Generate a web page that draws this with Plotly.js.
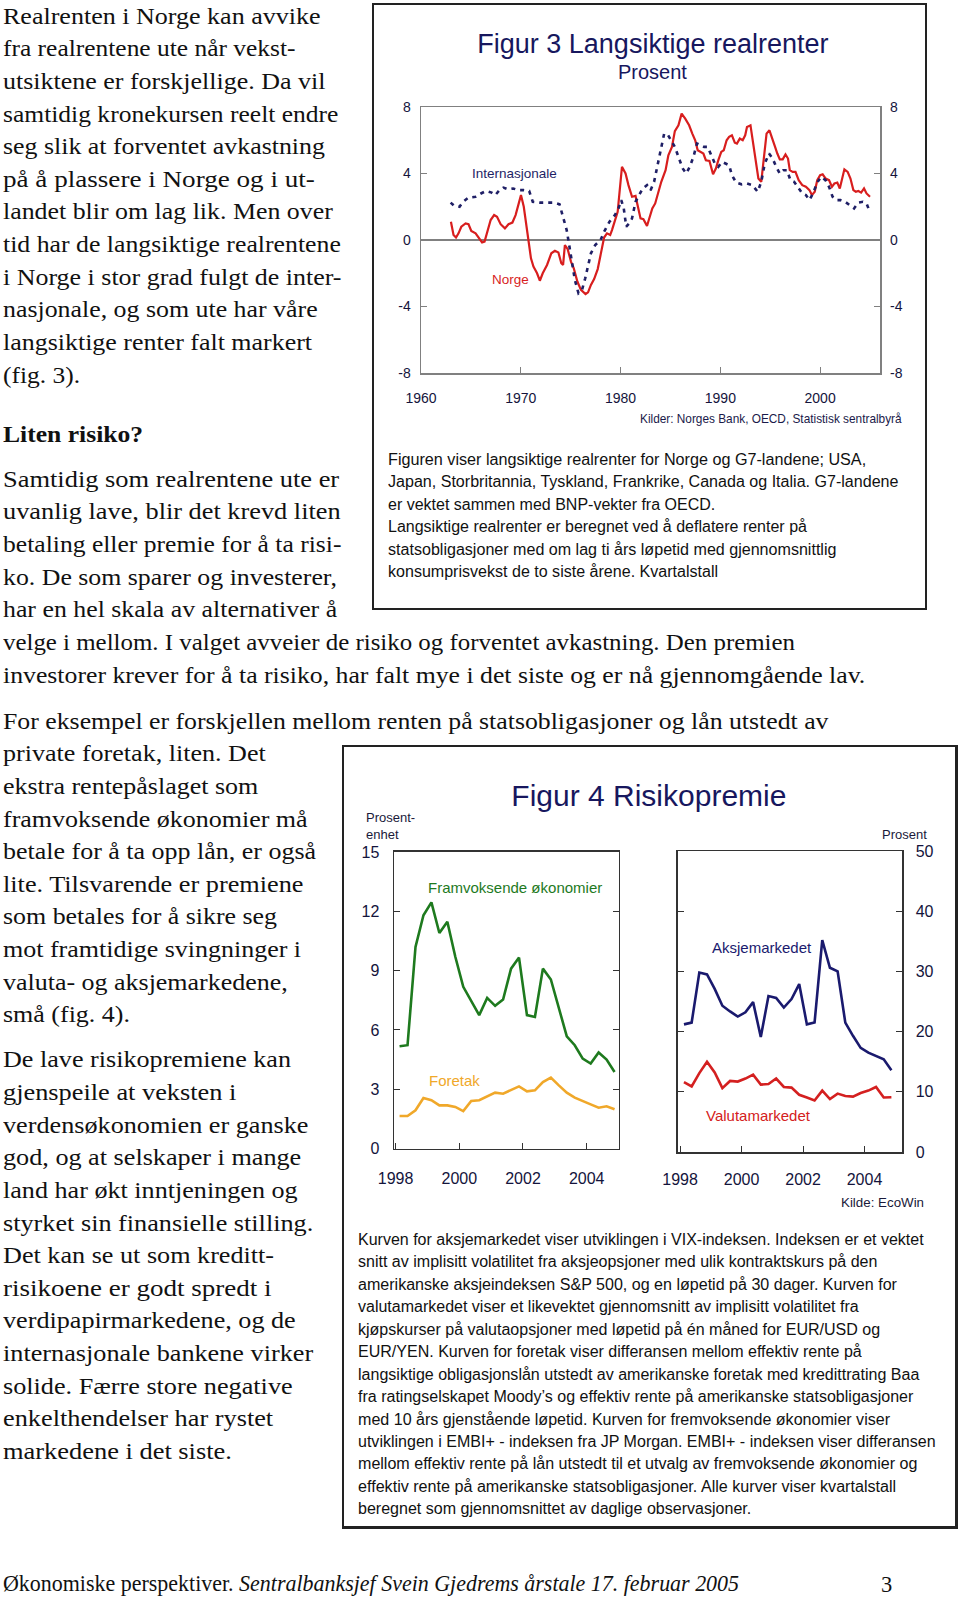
<!DOCTYPE html>
<html><head><meta charset="utf-8">
<script src="https://cdn.plot.ly/plotly-3.0.1.min.js"></script>
<style>
html,body{margin:0;padding:0;background:#fff;}
#page{position:relative;width:960px;height:1599px;overflow:hidden;background:#fff;}
.ln{position:absolute;white-space:nowrap;line-height:1;transform-origin:0 50%;}
.serif{font-family:'Liberation Serif','Times New Roman',Times,serif;color:#111;}
.sans{font-family:'Liberation Sans',Arial,sans-serif;color:#111;}
.box{position:absolute;border:2px solid #222;box-sizing:border-box;}
.chart{position:absolute;}
</style></head><body><div id="page">
<div class="box" style="left:372px;top:3px;width:555px;height:607px"></div>
<div class="box" style="left:342px;top:745px;width:616px;height:784px;border-right-width:3px;border-bottom-width:3px"></div>
<div id="fig3" class="chart" style="left:372px;top:3px;width:554px;height:606px"></div>
<div id="fig4" class="chart" style="left:342px;top:745px;width:615px;height:783px"></div>
</div>
<script>
// ---------- Figur 3 data ----------
var fig3Ticks = [1960, 1970, 1980, 1990, 2000];
var fig3YTicks = [-8, -4, 0, 4, 8];
var fig3YTickText = ['-8', '-4', '0', '4', '8'];
var norgeYears = [1963.0,1963.26,1963.51,1963.76,1964.04,1964.47,1964.76,1965.04,1965.47,1965.83,
1966.12,1966.37,1966.62,1966.98,1967.33,1967.62,1967.98,1968.41,1968.77,1969.16,
1969.48,1970.02,1970.3,1970.66,1971.02,1971.27,1971.63,1971.91,1972.2,1972.63,
1973.06,1973.42,1973.77,1974.06,1974.24,1974.42,1974.7,1975.03,1975.31,1975.67,
1976.03,1976.49,1976.74,1977.03,1977.35,1977.71,1978.1,1978.35,1978.64,1978.96,
1979.14,1979.43,1979.71,1980.14,1980.5,1980.79,1981.15,1981.5,1981.79,1982.0,
1982.29,1982.65,1982.83,1983.18,1983.47,1983.79,1984.08,1984.51,1984.79,1985.15,
1985.44,1985.8,1986.12,1986.48,1986.87,1987.19,1987.48,1987.73,1988.01,1988.3,
1988.55,1988.91,1989.27,1989.55,1989.8,1990.09,1990.34,1990.63,1990.88,1991.16,
1991.45,1991.66,1991.95,1992.24,1992.49,1992.67,1993.02,1993.31,1993.56,1993.81,
1994.1,1994.45,1994.63,1994.92,1995.17,1995.46,1995.71,1995.96,1996.25,1996.53,
1996.78,1996.96,1997.25,1997.53,1997.85,1998.21,1998.57,1998.93,1999.18,1999.46,
1999.71,2000.0,2000.25,2000.54,2000.89,2001.18,2001.43,2001.72,2001.97,2002.25,
2002.43,2002.76,2003.04,2003.33,2003.58,2003.83,2004.11,2004.4,2004.65,2005.0];
var norgeValues = [1.1,0.3,0.15,0.4,0.8,1.0,0.95,0.55,0.4,0.1,
-0.15,-0.1,0.4,1.2,1.5,1.4,0.95,0.7,0.95,1.05,
1.5,2.7,2.0,0.4,-1.1,-1.6,-2.0,-2.45,-2.0,-1.5,
-0.8,-0.65,-0.75,-1.4,-1.5,-0.3,-0.55,-1.3,-1.7,-2.5,
-3.0,-3.25,-3.15,-2.7,-2.35,-1.75,-0.5,0.15,0.4,0.3,
0.6,1.15,1.7,4.4,4.0,3.3,2.6,2.65,1.9,1.3,
1.25,0.85,1.2,1.9,2.2,2.9,3.5,4.2,5.1,5.6,
6.55,6.9,7.6,7.3,6.9,6.4,6.0,5.4,5.3,5.2,
4.8,4.75,3.95,4.3,4.8,5.3,5.4,6.0,6.2,6.3,
5.85,5.8,6.1,6.0,6.3,6.8,6.9,5.6,4.5,3.7,
3.5,5.2,6.4,6.6,6.2,5.65,5.2,4.85,4.85,5.15,
4.9,4.2,4.1,4.1,3.6,3.3,3.2,3.0,2.7,2.9,
3.6,3.9,3.95,3.7,3.6,3.2,3.4,3.45,3.1,3.7,
4.25,4.1,3.7,3.0,2.9,2.95,2.85,3.1,2.8,2.6];
var intYears = [1962.97,1963.33,1963.86,1964.22,1964.76,1965.47,1966.01,1966.55,1967.08,1967.44,
1967.8,1968.26,1968.69,1969.23,1969.77,1970.3,1970.84,1971.2,1971.91,1972.63,
1973.35,1973.88,1974.24,1974.6,1974.85,1975.13,1975.42,1975.78,1976.14,1976.46,
1976.74,1977.03,1977.46,1978.0,1978.35,1978.89,1979.43,1979.79,1980.07,1980.32,
1980.57,1980.86,1981.15,1981.5,1981.86,1982.22,1982.65,1983.01,1983.36,1983.65,
1984.01,1984.37,1984.72,1985.08,1985.44,1985.8,1986.23,1986.58,1986.94,1987.3,
1987.66,1988.01,1988.37,1988.73,1989.09,1989.45,1989.8,1990.16,1990.52,1990.88,
1991.16,1991.59,1992.13,1992.67,1993.2,1993.74,1994.1,1994.45,1994.88,1995.24,
1995.6,1995.96,1996.31,1996.67,1997.03,1997.39,1997.75,1998.21,1998.57,1998.93,
1999.28,1999.75,2000.11,2000.54,2000.89,2001.25,2001.61,2002.04,2002.5,2002.97,
2003.4,2003.83,2004.29,2004.65,2005.01];
var intValues = [2.25,2.05,2.0,2.3,2.55,2.6,2.8,2.95,2.85,2.7,
2.95,3.15,3.05,3.1,3.0,3.0,2.95,2.3,2.25,2.25,
2.25,2.15,1.4,0.6,-0.3,-1.4,-2.4,-3.2,-3.0,-2.3,
-1.6,-0.8,-0.3,0.0,0.5,1.1,1.5,1.9,2.4,1.9,
0.8,1.0,1.3,2.3,2.7,3.1,3.3,3.0,3.5,4.3,
5.2,6.4,6.35,6.0,5.6,5.0,4.3,4.0,4.4,5.0,
5.8,5.7,5.6,5.6,5.1,4.6,4.4,4.7,4.6,4.5,
3.9,3.45,3.35,3.4,3.3,2.9,3.5,4.6,5.2,4.9,
4.4,4.0,4.2,4.2,3.6,3.5,3.2,2.8,2.7,2.4,
2.8,3.5,3.8,3.6,3.2,2.6,2.4,2.4,2.3,2.1,
1.9,2.25,2.3,2.2,1.65];

// ---------- Figur 4 data ----------
var quarters = [1998.125,1998.375,1998.625,1998.875,1999.125,1999.375,1999.625,1999.875,
2000.125,2000.375,2000.625,2000.875,2001.125,2001.375,2001.625,2001.875,
2002.125,2002.375,2002.625,2002.875,2003.125,2003.375,2003.625,2003.875,
2004.125,2004.375,2004.625,2004.875];
var fig4XTicks = [1998, 2000, 2002, 2004];
var leftYTicks = [0, 3, 6, 9, 12, 15];
var rightYTicks = [0, 10, 20, 30, 40, 50];
var framvoksende = [5.18,5.23,10.2,11.8,12.45,10.9,11.47,9.7,8.18,7.5,6.75,7.62,7.22,7.54,9.1,9.66,6.75,6.66,9.1,8.55,7.08,5.68,5.23,4.55,4.3,4.86,4.5,3.88];
var foretak = [1.65,1.65,1.94,2.56,2.45,2.19,2.19,2.11,1.9,2.41,2.45,2.65,2.83,2.78,2.95,3.15,2.9,2.95,3.37,3.59,3.2,2.83,2.58,2.39,2.24,2.07,2.14,1.99];
var aksje = [21.2,21.5,29.8,29.5,27.1,24.3,23.35,22.5,23.2,24.9,19.1,25.9,25.6,24.0,25.4,27.9,21.2,21.5,35.2,30.6,30.0,21.5,19.3,17.3,16.5,16.0,15.4,13.6];
var valuta = [11.6,10.9,13.1,15.0,13.2,10.6,11.8,11.7,12.2,12.85,11.2,11.3,12.2,10.8,10.7,9.5,9.05,8.55,10.2,8.8,9.7,9.3,9.2,9.8,10.2,10.8,9.05,9.1];

// ---------- page text ----------
var blockA = ['Realrenten i Norge kan avvike','fra realrentene ute når vekst-','utsiktene er forskjellige. Da vil','samtidig kronekursen reelt endre','seg slik at forventet avkastning','på å plassere i Norge og i ut-','landet blir om lag lik. Men over','tid har de langsiktige realrentene','i Norge i stor grad fulgt de inter-','nasjonale, og som ute har våre','langsiktige renter falt markert','(fig. 3).'];
var blockAW = [317,293,322,336,322,312,330,338,338,315,309,77];
var blockC = ['Samtidig som realrentene ute er','uvanlig lave, blir det krevd liten','betaling eller premie for å ta risi-','ko. De som sparer og investerer,','har en hel skala av alternativer å','velge i mellom. I valget avveier de risiko og forventet avkastning. Den premien','investorer krever for å ta risiko, har falt mye i det siste og er nå gjennomgående lav.'];
var blockCW = [336,338,338,334,334,792,862];
var blockD = ['For eksempel er forskjellen mellom renten på statsobligasjoner og lån utstedt av','private foretak, liten. Det','ekstra rentepåslaget som','framvoksende økonomier må','betale for å ta opp lån, er også','lite. Tilsvarende er premiene','som betales for å sikre seg','mot framtidige svingninger i','valuta- og aksjemarkedene,','små (fig. 4).'];
var blockDW = [825,263,255,305,313,300,274,298,285,127];
var blockE = ['De lave risikopremiene kan','gjenspeile at veksten i','verdensøkonomien er ganske','god, og at selskaper i mange','land har økt inntjeningen og','styrket sin finansielle stilling.','Det kan se ut som kreditt-','risikoene er godt spredt i','verdipapirmarkedene, og de','internasjonale bankene virker','solide. Færre store negative','enkelthendelser har rystet','markedene i det siste.'];
var blockEW = [288,233,305,298,295,310,271,269,293,310,290,270,229];
var cap3 = ['Figuren viser langsiktige realrenter for Norge og G7-landene; USA,','Japan, Storbritannia, Tyskland, Frankrike, Canada og Italia. G7-landene','er vektet sammen med BNP-vekter fra OECD.','Langsiktige realrenter er beregnet ved å deflatere renter på','statsobligasjoner med om lag ti års løpetid med gjennomsnittlig','konsumprisvekst de to siste årene. Kvartalstall'];
var cap3W = [478,510,327,419,448,330];
var cap4 = ['Kurven for aksjemarkedet viser utviklingen i VIX-indeksen. Indeksen er et vektet','snitt av implisitt volatilitet fra aksjeopsjoner med ulik kontraktskurs på den','amerikanske aksjeindeksen S&amp;P 500, og en løpetid på 30 dager. Kurven for','valutamarkedet viser et likevektet gjennomsnitt av implisitt volatilitet fra','kjøpskurser på valutaopsjoner med løpetid på én måned for EUR/USD og','EUR/YEN. Kurven for foretak viser differansen mellom effektiv rente på','langsiktige obligasjonslån utstedt av amerikanske foretak med kredittrating Baa','fra ratingselskapet Moody’s og effektiv rente på amerikanske statsobligasjoner','med 10 års gjenstående løpetid. Kurven for fremvoksende økonomier viser','utviklingen i EMBI+ - indeksen fra JP Morgan. EMBI+ - indeksen viser differansen','mellom effektiv rente på lån utstedt til et utvalg av fremvoksende økonomier og','effektiv rente på amerikanske statsobligasjoner. Alle kurver viser kvartalstall','beregnet som gjennomsnittet av daglige observasjoner.'];
var cap4W = [566,519,539,501,522,504,561,555,532,578,559,538,393];

var page = document.getElementById('page');
function addLine(html, cls, fs, x, yc, w, k, extra){
  var d = document.createElement('div');
  d.className = 'ln ' + cls;
  d.innerHTML = html;
  d.style.fontSize = fs + 'px';
  d.style.left = x + 'px';
  d.style.top = (yc - k * fs) + 'px';
  d.dataset.w = w;
  if (extra) for (var p in extra) d.style[p] = extra[p];
  page.appendChild(d);
}
function addBlock(lines, widths, cls, fs, x, y0, dy, k, extra){
  lines.forEach(function(t, i){ addLine(t, cls, fs, x, y0 + i * dy, widths[i], k, extra); });
}
var SF = 22.5, LH = 32.64;
addBlock(blockA, blockAW, 'serif', SF, 3, 17.3, LH, 0.52);
addLine('Liten risiko?', 'serif', SF, 3, 435.6, 140, 0.52, {fontWeight:'bold'});
addBlock(blockC, blockCW, 'serif', SF, 3, 480.5, LH, 0.52);
addBlock(blockD, blockDW, 'serif', SF, 3, 722.3, LH, 0.52);
addBlock(blockE, blockEW, 'serif', SF, 3, 1061, LH, 0.52);
addLine('Økonomiske perspektiver. <i>Sentralbanksjef Svein Gjedrems årstale 17. februar 2005</i>', 'serif', SF, 3, 1586, 736, 0.52, {lineHeight:'0.9'});
addLine('3', 'serif', SF, 881, 1587, 0, 0.52, {lineHeight:'0.9'});
addBlock(cap3, cap3W, 'sans', 16, 388, 460, 22.4, 0.5);
addBlock(cap4, cap4W, 'sans', 16, 358, 1240, 22.44, 0.5);
addLine('Kilder: Norges Bank, OECD, Statistisk sentralbyrå', 'sans', 13, 640, 418, 262, 0.5, {color:'#1a1a4a'});
addLine('Kilde: EcoWin', 'sans', 13.5, 841, 1203, 83, 0.5, {color:'#1a1a3a'});

function fitAll(){
  document.querySelectorAll('.ln').forEach(function(d){
    d.style.transform = 'none';
    var nat = d.offsetWidth, w = +d.dataset.w;
    if (nat > 0 && w > 0) d.style.transform = 'scaleX(' + (w / nat) + ')';
  });
}
fitAll();
if (document.fonts && document.fonts.ready) document.fonts.ready.then(fitAll);

// ---------- Figur 3 chart ----------
var FONT = 'Liberation Sans, Arial, sans-serif';
var NAVY = '#17175e', TICKC = '#14143c', RED = '#d81e1e';
var fig3Traces = [
  {x: norgeYears, y: norgeValues, mode: 'lines', line: {color: RED, width: 2.2}, hoverinfo: 'skip'},
  {x: intYears, y: intValues, yaxis: 'y2', mode: 'lines', line: {color: '#1f1f66', width: 2.6, dash: '4px,5px'}, hoverinfo: 'skip'}
];
var fig3Layout = {
  width: 554, height: 606,
  margin: {l: 49, r: 46, t: 104, b: 236},
  paper_bgcolor: 'rgba(0,0,0,0)', plot_bgcolor: 'rgba(0,0,0,0)',
  showlegend: false,
  font: {family: FONT, color: TICKC, size: 14},
  title: {text: 'Figur 3 Langsiktige realrenter', font: {family: FONT, size: 27, color: NAVY},
          xref: 'container', x: 0.507, xanchor: 'center', yref: 'container', y: 0.933, yanchor: 'middle'},
  xaxis: {range: [1960, 2006], tickvals: fig3Ticks, ticks: 'inside', ticklen: 6, tickcolor: '#808080',
          showline: true, linecolor: '#808080', linewidth: 1.5, mirror: true, showgrid: false, zeroline: false,
          tickfont: {size: 14, color: TICKC}, ticklabelstandoff: 12},
  yaxis: {range: [-8, 8], tickvals: fig3YTicks, ticktext: fig3YTickText, ticks: 'inside', ticklen: 6, tickcolor: '#808080',
          showline: true, linecolor: '#808080', linewidth: 1.5, mirror: 'ticks', showgrid: false,
          zeroline: true, zerolinecolor: '#808080', zerolinewidth: 1.5,
          tickfont: {size: 14, color: TICKC}, ticklabelstandoff: 6},
  yaxis2: {range: [-8, 8], overlaying: 'y', side: 'right', tickvals: fig3YTicks, ticktext: fig3YTickText,
           ticks: '', showline: false, showgrid: false, zeroline: false,
           tickfont: {size: 14, color: TICKC}, ticklabelstandoff: 9},
  annotations: [
    {text: 'Prosent', xref: 'paper', yref: 'paper', x: 0.505, y: 1.13, showarrow: false, xanchor: 'center', yanchor: 'middle',
     font: {family: FONT, size: 20, color: NAVY}},
    {text: 'Internasjonale', xref: 'x', yref: 'y', x: 1969.34, y: 4.02, showarrow: false, xanchor: 'center', yanchor: 'middle',
     font: {family: FONT, size: 13.5, color: '#1f1f66'}},
    {text: 'Norge', xref: 'x', yref: 'y', x: 1969.0, y: -2.4, showarrow: false, xanchor: 'center', yanchor: 'middle',
     font: {family: FONT, size: 13.5, color: RED}}
  ]
};
Plotly.newPlot('fig3', fig3Traces, fig3Layout, {staticPlot: true, displayModeBar: false});

// ---------- Figur 4 chart ----------
var fig4Traces = [
  {x: quarters, y: framvoksende, mode: 'lines', line: {color: '#1e7a1e', width: 2.6}, hoverinfo: 'skip'},
  {x: quarters, y: foretak, mode: 'lines', line: {color: '#f0a82a', width: 2.6}, hoverinfo: 'skip'},
  {x: quarters, y: aksje, xaxis: 'x2', yaxis: 'y2', mode: 'lines', line: {color: '#1a1a6e', width: 2.6}, hoverinfo: 'skip'},
  {x: quarters, y: valuta, xaxis: 'x2', yaxis: 'y2', mode: 'lines', line: {color: '#d42020', width: 2.6}, hoverinfo: 'skip'}
];
var axBase = {ticks: 'inside', ticklen: 6, tickcolor: '#333', showline: true, linecolor: '#333', linewidth: 1.5,
              showgrid: false, zeroline: false, tickfont: {size: 16, color: TICKC}};
function ax(o){ var r = {}; for (var k in axBase) r[k] = axBase[k]; for (var k2 in o) r[k2] = o[k2]; return r; }
var fig4Layout = {
  width: 615, height: 783,
  margin: {l: 52, r: 55, t: 106, b: 376},
  paper_bgcolor: 'rgba(0,0,0,0)', plot_bgcolor: 'rgba(0,0,0,0)',
  showlegend: false,
  font: {family: FONT, color: TICKC, size: 16},
  title: {text: 'Figur 4 Risikopremie', font: {family: FONT, size: 30, color: NAVY},
          xref: 'container', x: 0.499, xanchor: 'center', yref: 'container', y: 0.936, yanchor: 'middle'},
  xaxis: ax({domain: [0, 0.442], range: [1997.95, 2005.0], tickvals: fig4XTicks, mirror: true, anchor: 'y', ticklabelstandoff: 15}),
  yaxis: ax({domain: [0.011, 0.997], range: [0, 15], tickvals: leftYTicks, mirror: 'ticks', anchor: 'x', ticklabelstandoff: 10}),
  xaxis2: ax({domain: [0.559, 1], range: [1997.93, 2005.22], tickvals: fig4XTicks, mirror: true, anchor: 'y2', ticklabelstandoff: 12}),
  yaxis2: ax({domain: [0, 1], range: [0, 50], tickvals: rightYTicks, mirror: 'ticks', anchor: 'x2', side: 'right', ticklabelstandoff: 9}),
  annotations: [
    {text: 'Prosent-', xref: 'paper', yref: 'paper', x: -0.059, y: 1.110, xanchor: 'left', yanchor: 'middle', showarrow: false,
     font: {family: FONT, size: 13, color: '#1a1a3a'}},
    {text: 'enhet', xref: 'paper', yref: 'paper', x: -0.059, y: 1.056, xanchor: 'left', yanchor: 'middle', showarrow: false,
     font: {family: FONT, size: 13, color: '#1a1a3a'}},
    {text: 'Prosent', xref: 'paper', yref: 'paper', x: 1.053, y: 1.056, xanchor: 'right', yanchor: 'middle', showarrow: false,
     font: {family: FONT, size: 13, color: '#1a1a3a'}},
    {text: 'Framvoksende økonomier', xref: 'x', yref: 'y', x: 2001.76, y: 13.2, xanchor: 'center', yanchor: 'middle', showarrow: false,
     font: {family: FONT, size: 15, color: '#1e7a1e'}},
    {text: 'Foretak', xref: 'x', yref: 'y', x: 1998.98, y: 3.45, xanchor: 'left', yanchor: 'middle', showarrow: false,
     font: {family: FONT, size: 15, color: '#f0a82a'}},
    {text: 'Aksjemarkedet', xref: 'x2', yref: 'y2', x: 2000.68, y: 33.9, xanchor: 'center', yanchor: 'middle', showarrow: false,
     font: {family: FONT, size: 15, color: '#1a1a6e'}},
    {text: 'Valutamarkedet', xref: 'x2', yref: 'y2', x: 2000.54, y: 6.1, xanchor: 'center', yanchor: 'middle', showarrow: false,
     font: {family: FONT, size: 15, color: '#d42020'}}
  ]
};
Plotly.newPlot('fig4', fig4Traces, fig4Layout, {staticPlot: true, displayModeBar: false});
</script>
</body></html>
